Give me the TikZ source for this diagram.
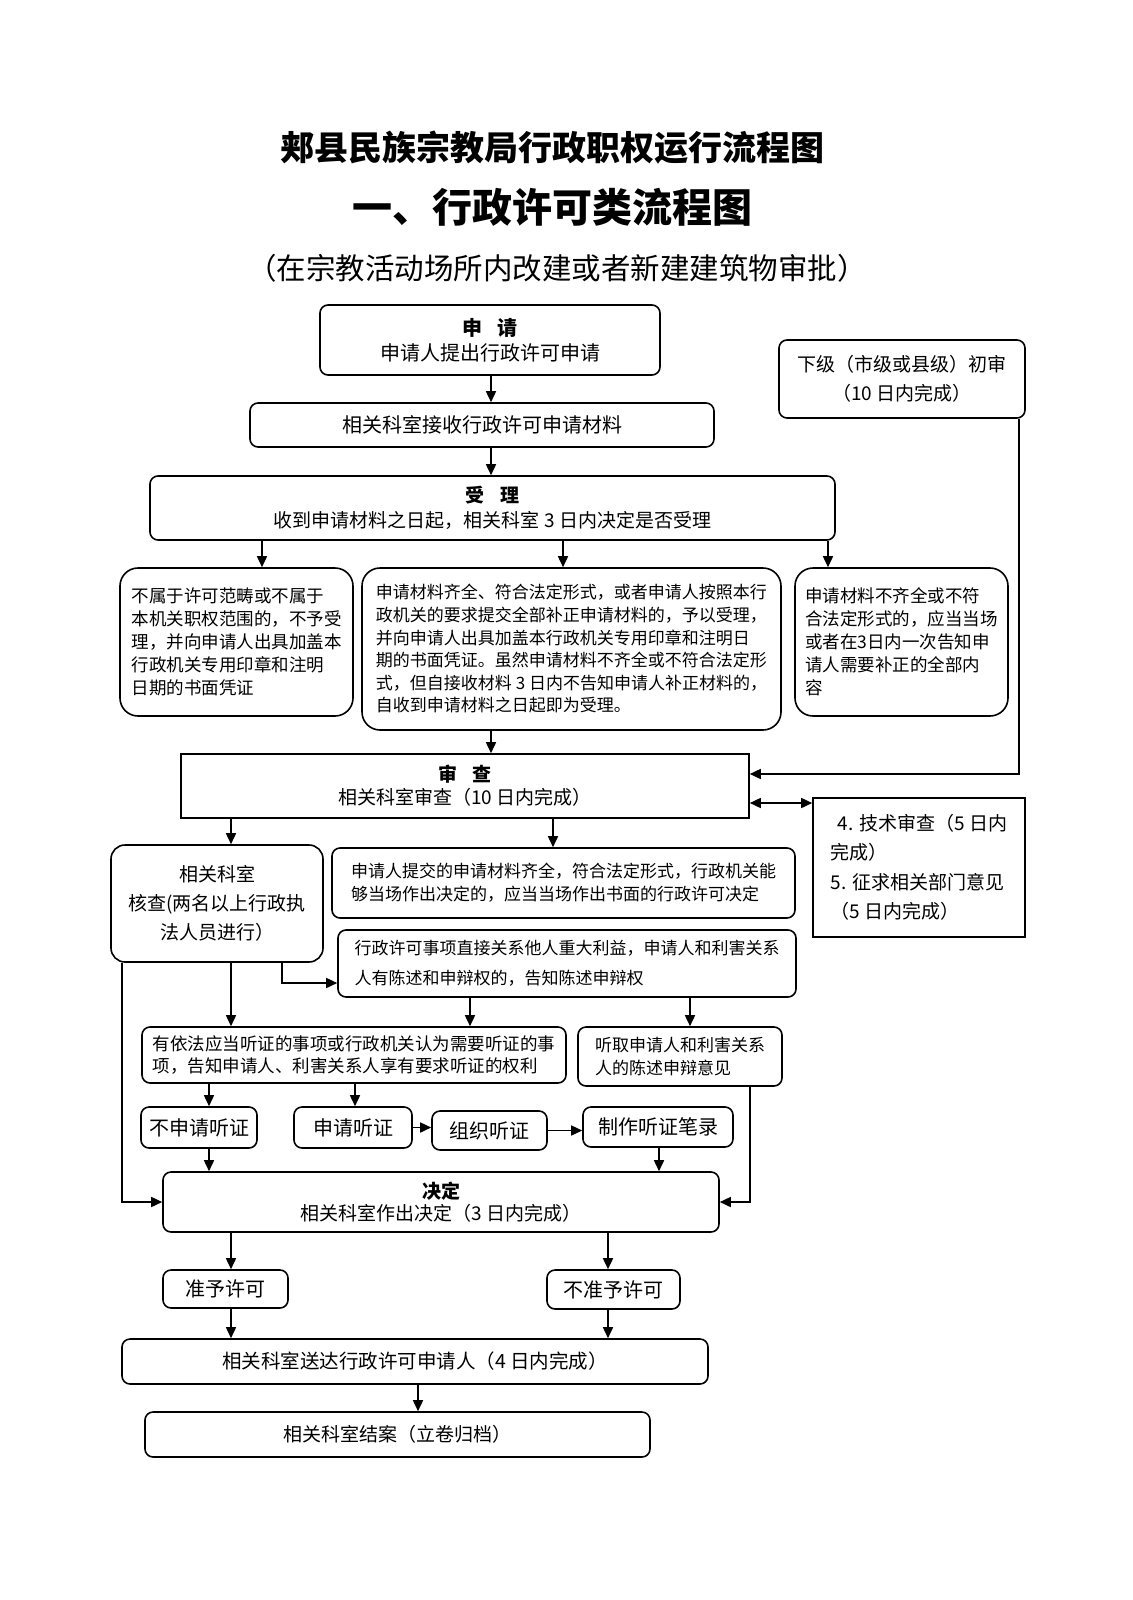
\documentclass[tikz,border=0pt]{standalone}
\usepackage{fontspec}
\setmainfont{Noto Sans CJK SC}
\usetikzlibrary{arrows.meta}
\newcommand{\fsz}[2]{\fontsize{#1}{#2}\selectfont}

\begin{document}
\begin{tikzpicture}[x=1pt,y=-1pt,
	box/.style={draw,line width=1.6pt,rounded corners=8pt,align=center,inner sep=0pt},
	bigbox/.style={box,rounded corners=18pt},
	sbox/.style={draw,line width=1.6pt,align=center,inner sep=0pt},
	arr/.style={line width=1.6pt,-{Triangle[length=11pt,width=10pt]}},
	darr/.style={line width=1.6pt,{Triangle[length=11pt,width=10pt]}-{Triangle[length=11pt,width=10pt]}}]
	\useasboundingbox (0,0) rectangle (1132,1600);
	% titles
	\node[font=\fsz{34}{40}\bfseries] (title) at (552,148) {郏县民族宗教局行政职权运行流程图};
	\node[font=\fsz{40}{46}\bfseries] (title2) at (552,207) {一、行政许可类流程图};
	\node[font=\fsz{29.5}{34}] (title3) at (557,268) {（在宗教活动场所内改建或者新建建筑物审批）};
	% boxes
	\node[box,minimum width=340pt,minimum height=70pt,font=\fsz{20}{25}] (sq) at (490,340) {\textbf{申\hspace{0.8em}请}\\申请人提出行政许可申请};
	\node[box,minimum width=464pt,minimum height=44pt,font=\fsz{20}{25}] (js) at (482,425) {相关科室接收行政许可申请材料};
	\node[box,minimum width=685pt,minimum height=64pt,font=\fsz{19}{25}] (sl) at (492.5,508) {\textbf{受\hspace{0.8em}理}\\收到申请材料之日起，相关科室 3 日内决定是否受理};
	\node[box,minimum width=246pt,minimum height=78pt,font=\fsz{19}{29}] (xj) at (902,379) {下级（市级或县级）初审\\（10 日内完成）};
	\node[bigbox,minimum width=233pt,minimum height=148pt,font=\fsz{17.5}{23},align=left] (bsl) at (236.5,642) {不属于许可范畴或不属于\\本机关职权范围的，不予受\\理，并向申请人出具加盖本\\行政机关专用印章和注明\\日期的书面凭证};
	\node[bigbox,minimum width=419pt,minimum height=162pt,font=\fsz{17}{22.6},align=left] (ysl) at (571.5,649) {申请材料齐全、符合法定形式，或者申请人按照本行\\政机关的要求提交全部补正申请材料的，予以受理，\\并向申请人出具加盖本行政机关专用印章和注明日\\期的书面凭证。虽然申请材料不齐全或不符合法定形\\式，但自接收材料 3 日内不告知申请人补正材料的，\\自收到申请材料之日起即为受理。};
	\node[bigbox,minimum width=213pt,minimum height=148pt,font=\fsz{17.5}{23},align=left] (bz) at (901.5,642) {申请材料不齐全或不符\\合法定形式的，应当当场\\或者在3日内一次告知申\\请人需要补正的全部内\\容};
	\node[sbox,minimum width=568pt,minimum height=64pt,font=\fsz{19}{23}] (sc) at (465,786) {\textbf{审\hspace{0.8em}查}\\相关科室审查（10 日内完成）};
	\node[sbox,minimum width=212pt,minimum height=139pt,font=\fsz{19}{29.5},align=left] (jsc) at (919,867.5) {\hspace{7pt}4. 技术审查（5 日内\\完成）\\5. 征求相关部门意见\\（5 日内完成）};
	\node[box,rounded corners=14pt,minimum width=212pt,minimum height=117pt,font=\fsz{19}{29}] (hc) at (217,903.5) {相关科室\\核查(两名以上行政执\\法人员进行）};
	\node[box,minimum width=463pt,minimum height=70pt,font=\fsz{17}{23},align=left] (dc) at (563.5,883) {申请人提交的申请材料齐全，符合法定形式，行政机关能\\够当场作出决定的，应当当场作出书面的行政许可决定};
	\node[box,minimum width=458pt,minimum height=67pt,font=\fsz{17}{30},align=left] (cs) at (567,963.5) {行政许可事项直接关系他人重大利益，申请人和利害关系\\人有陈述和申辩权的，告知陈述申辩权};
	\node[box,minimum width=424pt,minimum height=56pt,font=\fsz{17.5}{22},align=left] (tz) at (354,1055) {有依法应当听证的事项或行政机关认为需要听证的事\\项，告知申请人、利害关系人享有要求听证的权利};
	\node[box,minimum width=204pt,minimum height=59pt,font=\fsz{17}{23},align=left] (tq) at (680,1056.5) {听取申请人和利害关系\\人的陈述申辩意见};
	\node[box,minimum width=116pt,minimum height=41pt,font=\fsz{20}{25}] (bsq) at (199,1127.5) {不申请听证};
	\node[box,minimum width=118pt,minimum height=41pt,font=\fsz{20}{25}] (sqtz) at (353,1127.5) {申请听证};
	\node[box,minimum width=115pt,minimum height=39pt,font=\fsz{20}{25}] (zz) at (489.5,1130.5) {组织听证};
	\node[box,minimum width=150pt,minimum height=40pt,font=\fsz{20}{25}] (bl) at (658,1127) {制作听证笔录};
	\node[box,minimum width=556pt,minimum height=60pt,font=\fsz{19}{22}] (jd) at (441,1202) {\textbf{决定}\\相关科室作出决定（3 日内完成）};
	\node[box,minimum width=125pt,minimum height=38pt,font=\fsz{20}{25}] (zy) at (225.5,1289) {准予许可};
	\node[box,minimum width=133pt,minimum height=39pt,font=\fsz{20}{25}] (bzy) at (613.5,1289.5) {不准予许可};
	\node[box,minimum width=586pt,minimum height=45pt,font=\fsz{19.5}{25}] (sd) at (415,1361.5) {相关科室送达行政许可申请人（4 日内完成）};
	\node[box,minimum width=505pt,minimum height=45pt,font=\fsz{19}{25}] (ja) at (397.5,1434.5) {相关科室结案（立卷归档）};
	% columns for the arrows
	\coordinate (cmain) at (491,0);
	\coordinate (c209) at (209,0);
	\coordinate (c231) at (231,0);
	\coordinate (c262) at (262,0);
	\coordinate (c355) at (355,0);
	\coordinate (c418) at (418,0);
	\coordinate (c470) at (470,0);
	\coordinate (c553) at (553,0);
	\coordinate (c563) at (563,0);
	\coordinate (c608) at (608,0);
	\coordinate (c659) at (659,0);
	\coordinate (c690) at (690,0);
	\coordinate (c828) at (828,0);
	% arrows
	\draw[arr] (cmain |- sq.south) -- (cmain |- js.north);
	\draw[arr] (cmain |- js.south) -- (cmain |- sl.north);
	\draw[arr] (c262 |- sl.south) -- (c262 |- bsl.north);
	\draw[arr] (c563 |- sl.south) -- (c563 |- ysl.north);
	\draw[arr] (c828 |- sl.south) -- (c828 |- bz.north);
	\draw[arr] (cmain |- ysl.south) -- (cmain |- sc.north);
	\draw[arr] ([xshift=-7pt]xj.south east) |- ([yshift=12pt]sc.east);
	\draw[darr] ([yshift=-17pt]sc.east) -- ([yshift=-17pt]sc.east -| jsc.west);
	\draw[arr] (c231 |- sc.south) -- (c231 |- hc.north);
	\draw[arr] (c553 |- sc.south) -- (c553 |- dc.north);
	\draw[arr] (c231 |- hc.south) -- (c231 |- tz.north);
	\draw[arr] ([xshift=65pt]hc.south) |- ([yshift=-19.5pt]cs.west);
	\draw[arr] ([xshift=-95pt]hc.south) |- (jd.west);
	\draw[arr] (c470 |- cs.south) -- (c470 |- tz.north);
	\draw[arr] (c690 |- cs.south) -- (c690 |- tq.north);
	\draw[arr] (c209 |- tz.south) -- (c209 |- bsq.north);
	\draw[arr] (c355 |- tz.south) -- (c355 |- sqtz.north);
	\draw[arr] (sqtz.east) -- (sqtz.east -| zz.west);
	\draw[arr] (zz.east) -- (zz.east -| bl.west);
	\draw[arr] (c209 |- bsq.south) -- (c209 |- jd.north);
	\draw[arr] (c659 |- bl.south) -- (c659 |- jd.north);
	\draw[arr] ([xshift=70pt]tq.south) |- (jd.east);
	\draw[arr] (c231 |- jd.south) -- (c231 |- zy.north);
	\draw[arr] (c608 |- jd.south) -- (c608 |- bzy.north);
	\draw[arr] (c231 |- zy.south) -- (c231 |- sd.north);
	\draw[arr] (c608 |- bzy.south) -- (c608 |- sd.north);
	\draw[arr] (c418 |- sd.south) -- (c418 |- ja.north);
\end{tikzpicture}
\end{document}
